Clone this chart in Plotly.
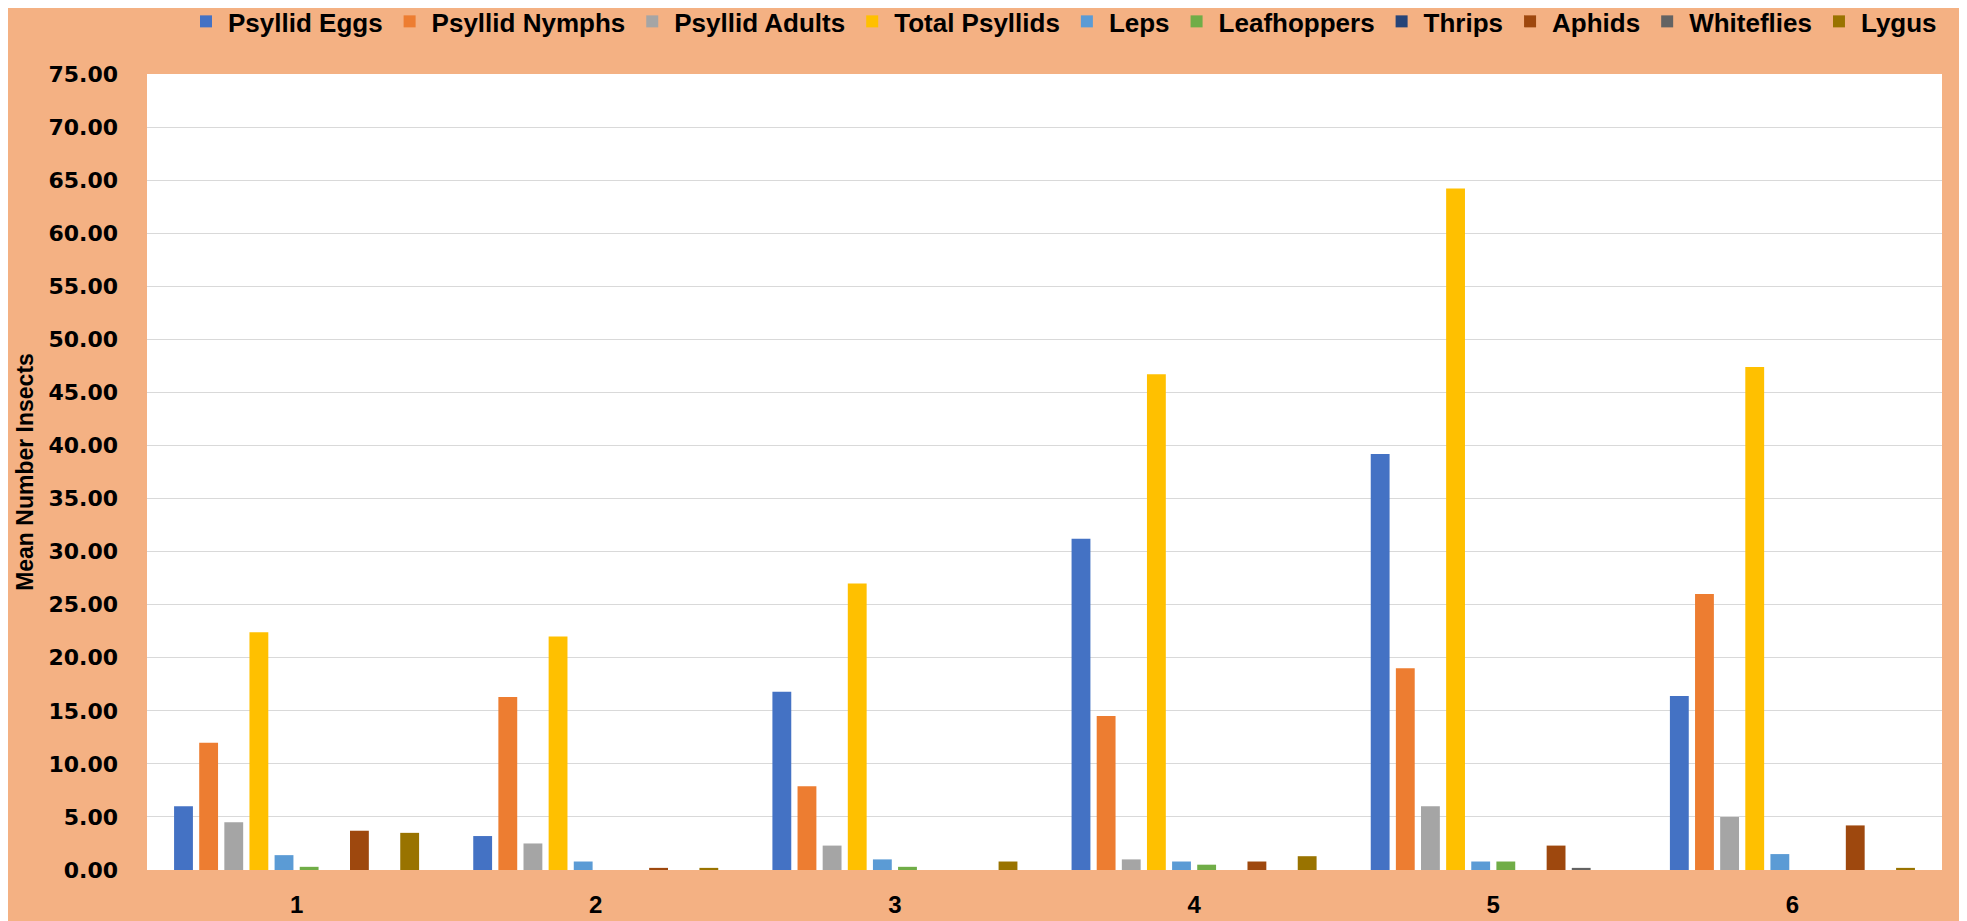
import plotly.graph_objects as go

weeks = ["1", "2", "3", "4", "5", "6"]

psyllid_eggs = [6.0, 3.2, 16.8, 31.2, 39.2, 16.4]
psyllid_nymphs = [12.0, 16.3, 7.9, 14.5, 19.0, 26.0]
psyllid_adults = [4.5, 2.5, 2.3, 1.0, 6.0, 5.0]
total_psyllids = [22.4, 22.0, 27.0, 46.7, 64.2, 47.4]
leps = [1.4, 0.8, 1.0, 0.8, 0.8, 1.5]
leafhoppers = [0.3, 0.0, 0.3, 0.5, 0.8, 0.0]
thrips = [0.0, 0.0, 0.0, 0.0, 0.0, 0.0]
aphids = [3.7, 0.2, 0.0, 0.8, 2.3, 4.2]
whiteflies = [0.0, 0.0, 0.0, 0.0, 0.2, 0.0]
lygus = [3.5, 0.2, 0.8, 1.3, 0.0, 0.2]

series = [
    ("Psyllid Eggs", psyllid_eggs, "#4472C4"),
    ("Psyllid Nymphs", psyllid_nymphs, "#ED7D31"),
    ("Psyllid Adults", psyllid_adults, "#A5A5A5"),
    ("Total Psyllids", total_psyllids, "#FFC000"),
    ("Leps", leps, "#5B9BD5"),
    ("Leafhoppers", leafhoppers, "#70AD47"),
    ("Thrips", thrips, "#264478"),
    ("Aphids", aphids, "#9E480E"),
    ("Whiteflies", whiteflies, "#636363"),
    ("Lygus", lygus, "#997300"),
]

label_font = "Liberation Sans, Arial, sans-serif"

fig = go.Figure()
for name, vals, color in series:
    fig.add_trace(go.Bar(x=weeks, y=vals, name=name, marker_color=color,
                         marker_line_width=0))

# page body adds an 8px offset, margins are shifted to compensate
fig.update_layout(
    width=1967, height=921,
    paper_bgcolor="#F4B183", plot_bgcolor="white",
    barmode="group", bargap=0.16, bargroupgap=0.25,
    margin=dict(l=139, r=33, t=66, b=59, autoexpand=False),
    legend=dict(orientation="h", x=1.0, xanchor="right", y=1.066, yanchor="middle",
                font=dict(family=label_font, size=26, color="black", weight="bold"),
                itemwidth=34, bgcolor="rgba(0,0,0,0)"),
)
fig.update_yaxes(range=[0, 75], dtick=5, tickformat=".2f", showgrid=True,
                 gridcolor="#D9D9D9", gridwidth=1, zeroline=False,
                 ticklabelstandoff=28,
                 tickfont=dict(family="DejaVu Sans", size=22, color="black", weight="bold"),
                 title=dict(text="Mean Number Insects",
                            font=dict(family=label_font, size=23, color="black", weight="bold"),
                            standoff=8))
fig.update_xaxes(showgrid=False, ticks="", ticklabelstandoff=18,
                 tickfont=dict(family=label_font, size=24, color="black", weight="bold"))

fig.write_html("out.html")
